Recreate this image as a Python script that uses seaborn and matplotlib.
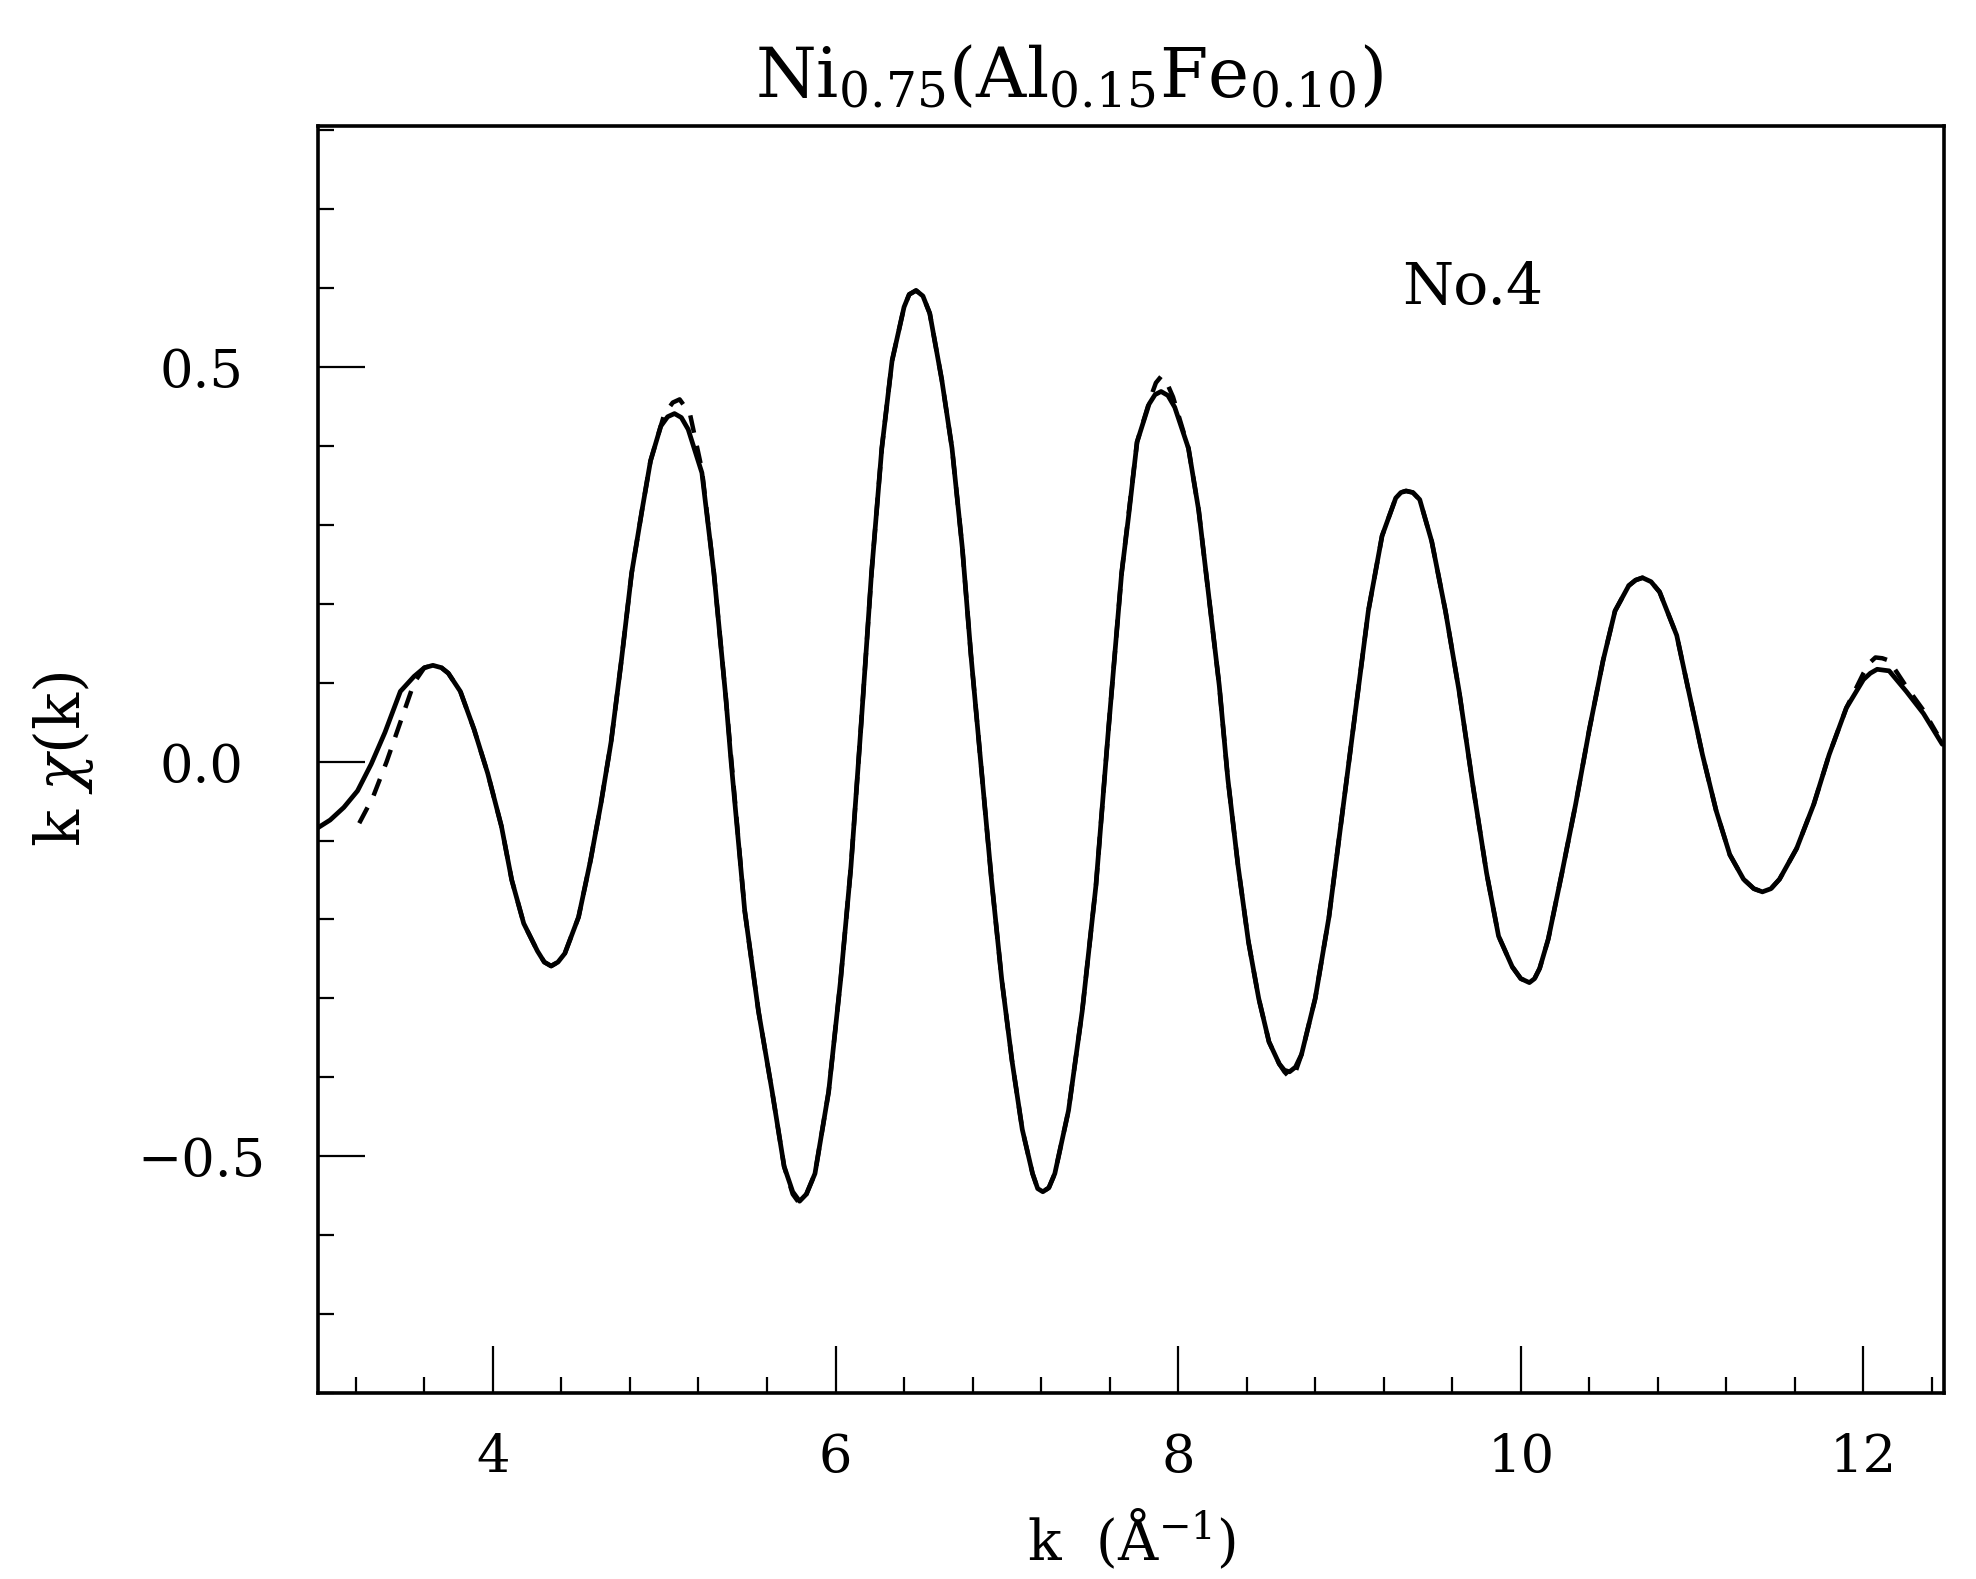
import matplotlib
matplotlib.use("Agg")
import matplotlib.pyplot as plt
import seaborn as sns
import pandas as pd
from matplotlib.ticker import MultipleLocator

# ---- data ----
k_fit = [2.97, 3.05, 3.13, 3.21, 3.29, 3.37, 3.46, 3.54, 3.60, 3.65, 3.70, 3.74,
         3.81, 3.89, 3.97, 4.05, 4.11, 4.18, 4.26, 4.30, 4.34, 4.38, 4.42, 4.50, 4.57, 4.63,
         4.69, 4.75, 4.81, 4.87, 4.92, 4.98, 5.02, 5.06, 5.10, 5.14, 5.22, 5.29, 5.36, 5.39,
         5.47, 5.55, 5.63, 5.70, 5.75, 5.79, 5.83, 5.88, 5.96, 6.03, 6.09, 6.15,
         6.21, 6.27, 6.33, 6.40, 6.43, 6.47, 6.51, 6.55, 6.62, 6.68, 6.74, 6.79, 6.85, 6.91,
         6.97, 7.03, 7.09, 7.15, 7.18, 7.21, 7.245, 7.28, 7.36, 7.44, 7.52, 7.59, 7.67, 7.71,
         7.76, 7.83, 7.865, 7.90, 7.94, 7.98, 8.06, 8.12, 8.18, 8.24, 8.29, 8.35, 8.41, 8.47,
         8.53, 8.59, 8.62, 8.65, 8.685, 8.72, 8.80, 8.88, 8.96, 9.04, 9.11, 9.19, 9.27, 9.30, 9.33,
         9.37, 9.41, 9.48, 9.56, 9.64, 9.72, 9.80, 9.87, 9.95, 10.00, 10.05, 10.08, 10.11, 10.16, 10.24,
         10.32, 10.40, 10.48, 10.55, 10.63, 10.67, 10.71, 10.76, 10.81, 10.91, 10.98, 11.06, 11.14,
         11.22, 11.30, 11.36, 11.41, 11.46, 11.51, 11.61, 11.71, 11.80, 11.90, 12.00, 12.04, 12.08, 12.15,
         12.25, 12.35, 12.46]
chi_fit = [-0.085, -0.074, -0.058, -0.037, -0.003, 0.037, 0.089, 0.108, 0.119, 0.122, 0.119, 0.112,
           0.089, 0.041, -0.015, -0.082, -0.150, -0.205, -0.240, -0.254, -0.259, -0.254, -0.243, -0.197, -0.125, -0.054,
           0.025, 0.128, 0.239, 0.318, 0.381, 0.425, 0.437, 0.441, 0.436, 0.421, 0.366, 0.239, 0.080, 0.001,
           -0.189, -0.316, -0.418, -0.513, -0.545, -0.557, -0.548, -0.522, -0.418, -0.276, -0.133, 0.049,
           0.239, 0.397, 0.508, 0.576, 0.592, 0.597, 0.590, 0.568, 0.484, 0.397, 0.271, 0.136, -0.007, -0.149,
           -0.276, -0.379, -0.466, -0.522, -0.541, -0.545, -0.540, -0.522, -0.442, -0.316, -0.157, 0.033, 0.239, 0.310,
           0.405, 0.453, 0.465, 0.469, 0.464, 0.449, 0.397, 0.318, 0.207, 0.096, -0.022, -0.133, -0.228, -0.300,
           -0.355, -0.383, -0.391, -0.393, -0.387, -0.371, -0.300, -0.197, -0.062, 0.073, 0.191, 0.286, 0.334, 0.341, 0.343,
           0.341, 0.332, 0.279, 0.191, 0.089, -0.030, -0.141, -0.221, -0.260, -0.275, -0.280, -0.275, -0.262, -0.225, -0.141,
           -0.054, 0.041, 0.128, 0.191, 0.223, 0.230, 0.233, 0.228, 0.215, 0.160, 0.089, 0.009, -0.062,
           -0.118, -0.149, -0.161, -0.165, -0.161, -0.149, -0.110, -0.054, 0.009, 0.068, 0.104, 0.112, 0.117, 0.115,
           0.089, 0.061, 0.022]

k_exp = [3.22, 3.30, 3.38, 3.46, 3.54, 3.60, 3.65, 3.70, 3.74, 3.81, 3.89, 3.97, 4.05, 4.11, 4.18,
         4.26, 4.30, 4.34, 4.38, 4.42, 4.50, 4.57, 4.63, 4.69, 4.75, 4.81, 4.87, 4.92, 5.00, 5.05, 5.09,
         5.15, 5.22, 5.29, 5.36, 5.47, 5.55, 5.63, 5.70, 5.75, 5.79, 5.83, 5.88, 5.96, 6.03, 6.09,
         6.15, 6.21, 6.27, 6.33, 6.40, 6.43, 6.47, 6.51, 6.55, 6.62, 6.68, 6.74, 6.79, 6.85, 6.91,
         6.97, 7.03, 7.09, 7.15, 7.18, 7.21, 7.245, 7.28, 7.36, 7.44, 7.52, 7.59, 7.67, 7.76, 7.84, 7.87,
         7.90, 7.93, 7.97, 8.06, 8.12, 8.18, 8.24, 8.29, 8.35, 8.41, 8.47, 8.53, 8.59, 8.62, 8.65, 8.685,
         8.72, 8.80, 8.88, 8.96, 9.04, 9.11, 9.19, 9.27, 9.30, 9.33, 9.37, 9.41, 9.48, 9.56, 9.64,
         9.72, 9.80, 9.87, 9.95, 10.00, 10.05, 10.08, 10.11, 10.16, 10.24, 10.32, 10.40, 10.48, 10.55,
         10.63, 10.67, 10.71, 10.76, 10.81, 10.91, 10.98, 11.06, 11.14, 11.22, 11.30, 11.36, 11.41, 11.46, 11.51,
         11.61, 11.71, 11.80, 11.90, 12.00, 12.04, 12.07, 12.11, 12.15, 12.25, 12.35, 12.43]
chi_exp = [-0.078, -0.045, 0.000, 0.050, 0.100, 0.119, 0.122, 0.119, 0.112, 0.089, 0.041, -0.015, -0.082, -0.150, -0.205,
           -0.240, -0.254, -0.259, -0.254, -0.243, -0.197, -0.125, -0.054, 0.025, 0.128, 0.239, 0.318, 0.381, 0.440, 0.455, 0.459,
           0.441, 0.370, 0.239, 0.080, -0.189, -0.316, -0.418, -0.513, -0.548, -0.560, -0.548, -0.522, -0.418, -0.276, -0.133,
           0.049, 0.239, 0.397, 0.508, 0.576, 0.592, 0.597, 0.590, 0.568, 0.484, 0.397, 0.271, 0.136, -0.007, -0.149,
           -0.276, -0.379, -0.466, -0.522, -0.541, -0.545, -0.540, -0.522, -0.442, -0.316, -0.157, 0.033, 0.239, 0.405, 0.462, 0.480,
           0.488, 0.482, 0.462, 0.397, 0.318, 0.207, 0.096, -0.022, -0.133, -0.228, -0.300, -0.355, -0.383, -0.393, -0.400, -0.393,
           -0.371, -0.300, -0.197, -0.062, 0.073, 0.191, 0.286, 0.334, 0.341, 0.343, 0.341, 0.332, 0.279, 0.191, 0.089,
           -0.030, -0.141, -0.221, -0.260, -0.275, -0.280, -0.275, -0.262, -0.225, -0.141, -0.054, 0.041, 0.128, 0.191,
           0.223, 0.230, 0.233, 0.228, 0.215, 0.160, 0.089, 0.009, -0.062, -0.118, -0.149, -0.161, -0.165, -0.161, -0.149,
           -0.110, -0.054, 0.009, 0.068, 0.112, 0.126, 0.132, 0.131, 0.128, 0.095, 0.065, 0.035]

title_text = r"Ni$_{0.75}$(Al$_{0.15}$Fe$_{0.10}$)"
panel_label = "No.4"
x_label = r"k  (Å$^{-1}$)"
y_label = r"k $\chi$(k)"
x_major = [4, 6, 8, 10, 12]
y_major = [-0.5, 0.0, 0.5]

# ---- style ----
sns.set_style("ticks")
plt.rcParams["font.family"] = ["DejaVu Serif"]
plt.rcParams["mathtext.fontset"] = "dejavuserif"
for key in ["text.color", "axes.labelcolor", "xtick.color", "ytick.color", "axes.edgecolor"]:
    plt.rcParams[key] = "black"

fig = plt.figure(figsize=(19.76, 15.79), dpi=100)
ax = fig.add_axes([0.161, 0.1178, 0.8228, 0.8022])

fit_df = pd.DataFrame({"k": k_fit, "chi": chi_fit})
exp_df = pd.DataFrame({"k": k_exp, "chi": chi_exp})

sns.lineplot(data=exp_df, x="k", y="chi", ax=ax, color="black", lw=3.2,
             linestyle=(0, (4, 3)), sort=False, estimator=None)
sns.lineplot(data=fit_df, x="k", y="chi", ax=ax, color="black", lw=3.4,
             sort=False, estimator=None)

ax.set_xlim(2.98, 12.47)
ax.set_ylim(-0.80, 0.805)

ax.set_xticks(x_major)
ax.set_xticklabels([str(v) for v in x_major])
ax.xaxis.set_minor_locator(MultipleLocator(0.4))
ax.set_yticks(y_major)
ax.set_yticklabels([f"{v:.1f}".replace("-", "\u2212") for v in y_major])
ax.yaxis.set_minor_locator(MultipleLocator(0.1))

ax.tick_params(axis="both", which="major", direction="in", length=34, width=1.6,
               labelsize=38, top=False, right=False)
ax.tick_params(axis="both", which="minor", direction="in", length=11.5, width=1.6,
               top=False, right=False)
ax.tick_params(axis="x", which="major", pad=28)
ax.tick_params(axis="y", which="major", pad=84)
for lab in ax.get_yticklabels():
    lab.set_horizontalalignment("center")

for s in ax.spines.values():
    s.set_linewidth(2.6)
    s.set_color("black")

ax.set_xlabel(x_label, fontsize=40, labelpad=18)
ax.set_ylabel(y_label, fontsize=44, labelpad=30)

ax.text(9.72, 0.60, panel_label, fontsize=42, ha="center", va="center")
fig.text(0.541, 0.951, title_text, fontsize=50, ha="center", va="center")

fig.savefig("out.png", dpi=100, facecolor="white")
